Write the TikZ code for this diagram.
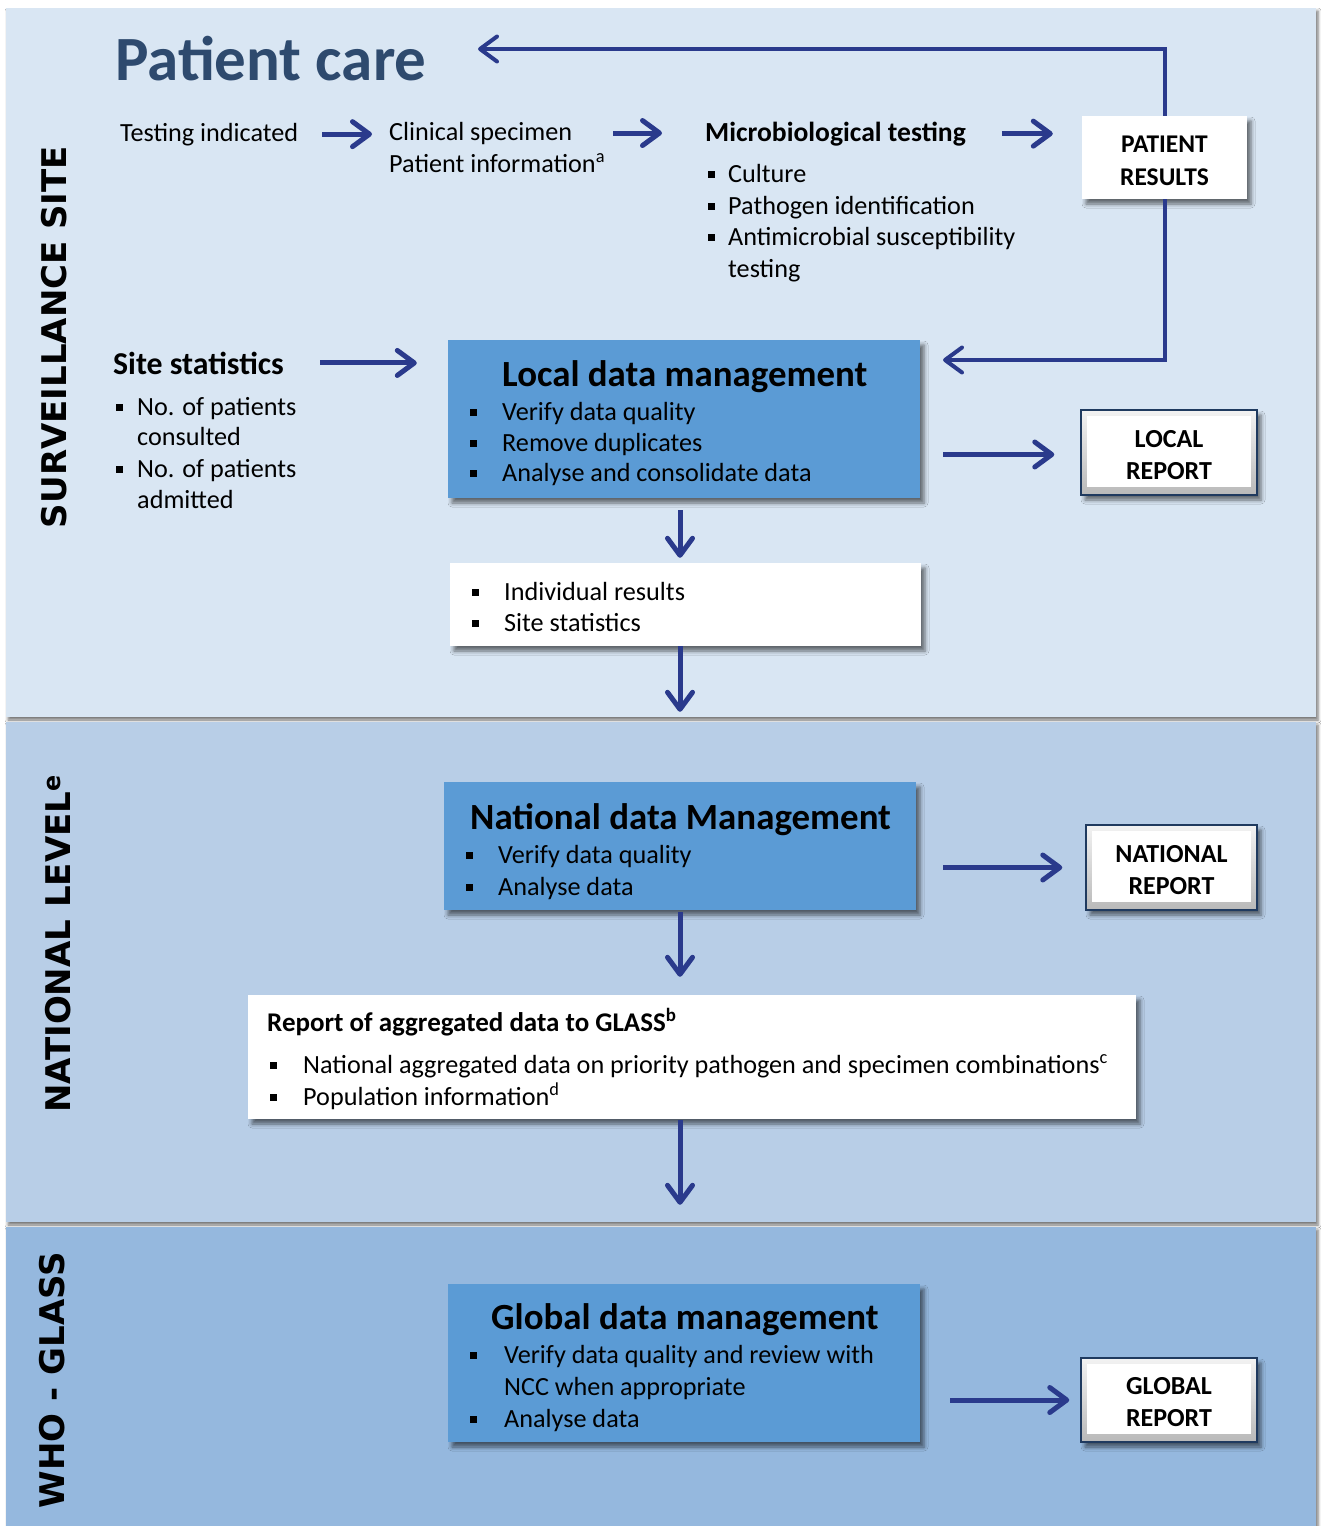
\documentclass[tikz,border=0pt]{standalone}
\usepackage{fontspec}
\setmainfont{Carlito}
\newfontfamily\vfont{DejaVu Sans}
\usetikzlibrary{arrows.meta,shadows.blur}
\definecolor{bandA}{HTML}{D9E6F3}
\definecolor{bandB}{HTML}{B8CEE7}
\definecolor{bandC}{HTML}{95B8DE}
\definecolor{boxblue}{HTML}{5B9BD5}
\definecolor{navy}{HTML}{2A3A8C}
\definecolor{pcare}{HTML}{2E4A6E}
\definecolor{rborder}{HTML}{1F3A5F}
\newcommand\sqb{\rule[4pt]{7pt}{7pt}}
\newcommand\fs[2]{\fontsize{#1}{#2}\selectfont}
\newcommand\twol[2]{\raisebox{0pt}[\dimexpr\height+9pt\relax][\depth]{\begin{tabular}{@{}c@{}}#1\\#2\end{tabular}}}
\begin{document}
\begin{tikzpicture}[x=1pt,y=-1pt,
  bandshadow/.style={blur shadow={shadow xshift=2pt,shadow yshift=-3pt,shadow blur radius=3pt,shadow opacity=55}},
  boxshadow/.style={blur shadow={shadow xshift=4pt,shadow yshift=-5pt,shadow blur radius=4pt,shadow opacity=55}},
  bluebox/.style={fill=boxblue,inner sep=0,boxshadow},
  whitebox/.style={fill=white,inner sep=0,boxshadow},
  rptbox/.style={draw=rborder,line width=1.5pt,top color=gray!10,bottom color=gray!55,boxshadow,
    inner sep=0,align=center,font=\bfseries\fs{26}{32},
    path picture={\fill[white] ([shift={(6pt,-6pt)}]path picture bounding box.north west) rectangle ([shift={(-6pt,8pt)}]path picture bounding box.south east);}},
  txt/.style={inner sep=0,anchor=base west,font=\fs{26.2}{31}},
  btxt/.style={inner sep=0,anchor=base west,font=\bfseries\fs{27.6}{32}},
  ttl/.style={inner sep=0,anchor=base west,font=\bfseries\fs{36.9}{40}},
  vlab/.style={inner sep=0,anchor=base,rotate=90,font=\vfont\bfseries\fs{34}{40}},
  arr/.style={draw=navy,line width=5pt,-{Straight Barb[length=17pt,width=25pt,round]}},
  fb/.style={draw=navy,line width=4pt,-{Straight Barb[length=17pt,width=25pt,round]}}]
\useasboundingbox (0,0) rectangle (1321,1526);
\fill[white] (0,0) rectangle (1321,1526);
% bands
\fill[bandA,bandshadow] (6,8) rectangle (1316,717);
\fill[bandB,bandshadow] (6,722) rectangle (1316,1222);
\fill[bandC,bandshadow] (6,1227) rectangle (1316,1526);
% vertical labels
\node[vlab] (v1) at (66,337) {SURVEILLANCE SITE};
\node[vlab] (v2) at (70,944) {NATIONAL LEVEL\textsuperscript{e}};
\node[vlab] (v3) at (64,1380) {WHO - GLASS};
% patient care
\node[inner sep=0,anchor=base west,font=\bfseries\fs{63}{70},text=pcare] (pc) at (115,80) {Patient care};
\coordinate (pcin) at (478,49);
\node[txt] (testing) at (120,141) {Testing indicated};
\node[txt] (clin1) at (389,140) {Clinical specimen};
\node[txt] (clin2) at (389,172) {Patient information\textsuperscript{a}};
\node[btxt] (micro) at (705,141) {Microbiological testing};
\node[txt] (m1) at (708,182) {\sqb\hspace{13pt}Culture};
\node[txt] (m2) at (708,214) {\sqb\hspace{13pt}Pathogen identification};
\node[txt] (m3) at (708,245) {\sqb\hspace{13pt}Antimicrobial susceptibility};
\node[txt] (m4) at (728,277) {testing};
\node[whitebox,minimum width=165pt,minimum height=83pt,align=center,font=\bfseries\fs{25.5}{33}] (pr) at (1164.5,157.5) {\twol{PATIENT}{RESULTS}};
% site statistics
\node[inner sep=0,anchor=base west,font=\bfseries\fs{31.8}{36}] (site) at (113,374) {Site statistics};
\node[txt] (s1) at (116,415) {\sqb\hspace{14pt}No. of patients};
\node[txt] (s2) at (137,445) {consulted};
\node[txt] (s3) at (116,477) {\sqb\hspace{14pt}No. of patients};
\node[txt] (s4) at (137,508) {admitted};
% local data management
\node[bluebox,minimum width=472pt,minimum height=158pt] (ldm) at (684,419) {};
\node[ttl] (ldmt) at (502,386) {Local data management};
\node[txt] (l1) at (470,420) {\sqb\hspace{25pt}Verify data quality};
\node[txt] (l2) at (470,451) {\sqb\hspace{25pt}Remove duplicates};
\node[txt] (l3) at (470,481) {\sqb\hspace{25pt}Analyse and consolidate data};
\coordinate (ldmin) at (943,360);
\node[rptbox,minimum width=176pt,minimum height=85pt] (lr) at (1169,452.5) {\twol{LOCAL}{REPORT}};
% individual results
\node[whitebox,minimum width=471pt,minimum height=83pt] (ind) at (685.5,604.5) {};
\node[txt] (i1) at (472,600) {\sqb\hspace{25pt}Individual results};
\node[txt] (i2) at (472,631) {\sqb\hspace{25pt}Site statistics};
% national
\node[bluebox,minimum width=472pt,minimum height=128pt] (ndm) at (680,846) {};
\node[ttl] (ndmt) at (470,829) {National data Management};
\node[txt] (n1) at (466,863) {\sqb\hspace{25pt}Verify data quality};
\node[txt] (n2) at (466,895) {\sqb\hspace{25pt}Analyse data};
\node[rptbox,minimum width=171pt,minimum height=85pt] (nr) at (1171.5,867.5) {\twol{NATIONAL}{REPORT}};
\node[whitebox,minimum width=888pt,minimum height=124pt] (rep) at (692,1057) {};
\node[inner sep=0,anchor=base west,font=\bfseries\fs{27}{31}] (rept) at (267,1031) {Report of aggregated data to GLASS\textsuperscript{b}};
\node[txt] (r1) at (270,1073) {\sqb\hspace{26pt}National aggregated data on priority pathogen and specimen combinations\textsuperscript{c}};
\node[txt] (r2) at (270,1105) {\sqb\hspace{26pt}Population information\textsuperscript{d}};
% global
\node[bluebox,minimum width=472pt,minimum height=158pt] (gdm) at (684,1363) {};
\node[ttl] (gdmt) at (491,1329) {Global data management};
\node[txt] (g1) at (470,1363) {\sqb\hspace{27pt}Verify data quality and review with};
\node[txt] (g2) at (504,1395) {NCC when appropriate};
\node[txt] (g3) at (470,1427) {\sqb\hspace{27pt}Analyse data};
\node[rptbox,minimum width=176pt,minimum height=84pt] (gr) at (1169,1400) {\twol{GLOBAL}{REPORT}};
% connectors
\draw[arr,shorten <=24pt,shorten >=17pt] (testing.east) -- (testing.east -| clin1.west);
\draw[arr,shorten <=41pt,shorten >=43pt] (clin1.east) -- (clin1.east -| micro.west);
\draw[arr,shorten <=36pt,shorten >=29pt] (micro.east) -- (micro.east -| pr.west);
\draw[fb] (pr.north) |- (pcin);
\draw[fb] (pr.south) |- (ldmin);
\draw[arr,shorten <=36pt,shorten >=31pt] (site.east) -- (site.east -| ldm.west);
\draw[arr,shorten <=23pt,shorten >=26pt] ([yshift=-2pt]ldm.east |- lr.west) -- ([yshift=-2pt]lr.west);
\draw[arr,shorten <=12pt,shorten >=5pt] (ldm.south -| ndm.south) -- (ind.north -| ndm.south);
\draw[arr,shorten >=70pt] (ind.south -| ndm.south) -- (ndm.north);
\draw[arr,shorten <=27pt,shorten >=23pt] (ndm.east |- nr.west) -- (nr.west);
\draw[arr,shorten <=2pt,shorten >=18pt] (ndm.south) -- (rep.north -| ndm.south);
\draw[arr,shorten <=1pt,shorten >=79pt] (rep.south -| ndm.south) -- (gdm.north -| ndm.south);
\draw[arr,shorten <=30pt,shorten >=11pt] (gdm.east |- gr.west) -- (gr.west);
\end{tikzpicture}
\end{document}
